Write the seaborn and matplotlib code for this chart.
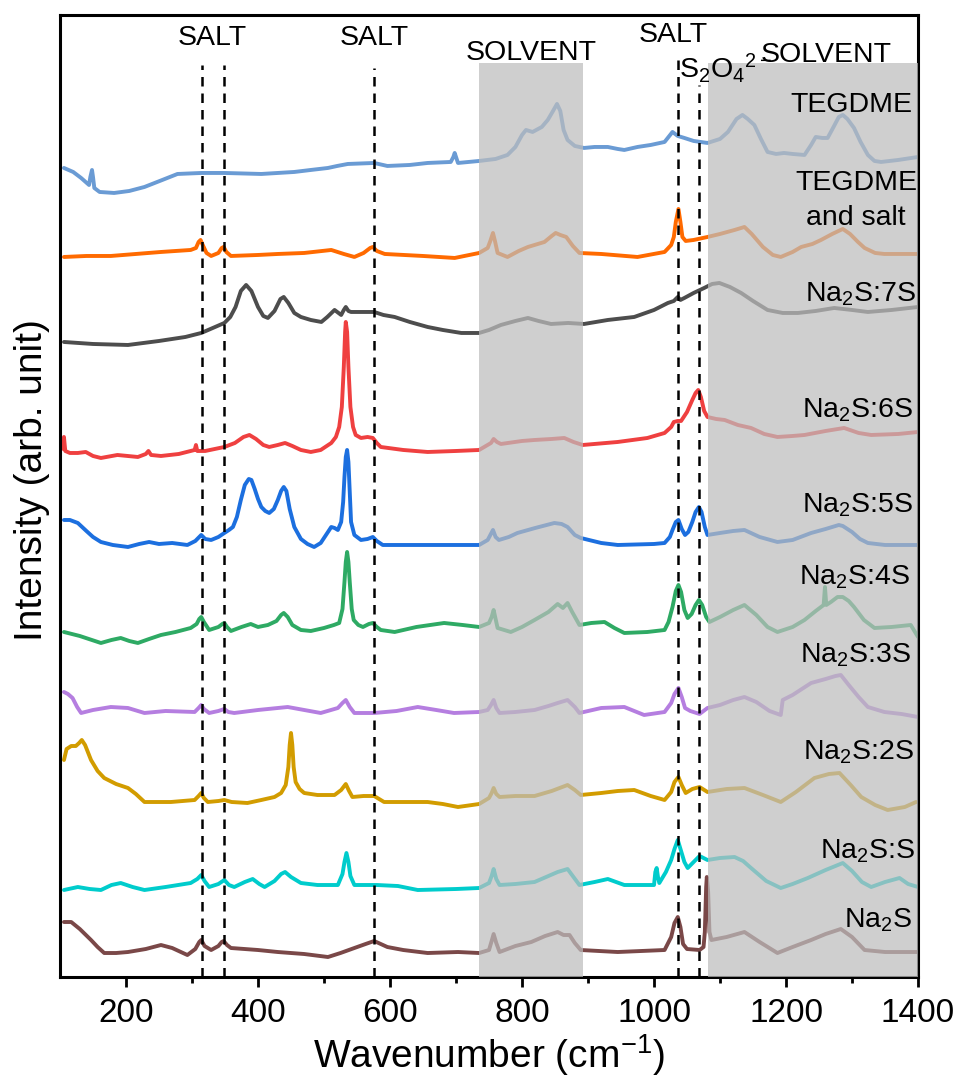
import pandas as pd
import matplotlib.pyplot as plt
import seaborn as sns

sns.set_theme(style='ticks')
plt.rcParams['font.family'] = ['Liberation Sans', 'DejaVu Sans']
plt.rcParams['mathtext.fontset'] = 'custom'
plt.rcParams['mathtext.rm'] = 'Liberation Sans'
plt.rcParams['mathtext.it'] = 'Liberation Sans:italic'
plt.rcParams['mathtext.default'] = 'regular'
plt.rcParams['text.color'] = 'black'
plt.rcParams['axes.labelcolor'] = 'black'
plt.rcParams['xtick.color'] = 'black'

# spectra (intensity in arb. units, already stacked)
wn_tegdme = [106, 120, 132, 144, 146, 148.5, 150, 152, 160, 182, 205, 228, 255, 278, 314, 349, 405, 455, 480, 506,
             520, 536, 576, 596, 630, 657, 692, 696, 698, 700, 703, 735, 760, 778, 790, 800, 806, 816, 830, 839,
             847, 853, 858, 863, 869, 880, 894, 910, 930, 945, 955, 975, 995, 1016, 1022, 1028, 1036, 1046, 1060,
             1081, 1100, 1112, 1125, 1134, 1142, 1152, 1162, 1172, 1185, 1197, 1210, 1228, 1238, 1245, 1255, 1263,
             1272, 1280, 1286, 1293, 1303, 1313, 1324, 1334, 1344, 1370, 1400]
i_tegdme = [809, 805, 799, 792, 800, 807, 800, 789, 785, 784, 786, 790, 797, 803, 804, 804, 803, 805, 807, 809,
            811, 813, 814, 811, 812, 814, 815, 820, 824, 820, 814, 816, 818, 822, 830, 842, 847, 845, 850, 857,
            866, 873, 866, 847, 837, 831, 829, 830, 830, 828, 827, 830, 832, 835, 840, 845, 841, 839, 836,
            834, 838, 845, 858, 862, 858, 852, 838, 825, 823, 824, 823, 822, 832, 840, 839, 839,
            850, 860, 862, 858, 849, 835, 822, 816, 815, 817, 820]

wn_salt = [106, 140, 177, 215, 253, 298, 306, 310, 313, 317, 322, 329, 340, 345, 348, 352, 359, 400, 430, 470, 511,
           530, 546, 560, 570, 574, 580, 592, 650, 698, 735, 748, 752, 756, 759, 763, 778, 795, 809, 834, 845, 851,
           858, 867, 877, 887, 920, 975, 1016, 1026, 1030, 1033, 1037, 1040, 1043, 1048, 1060, 1081, 1100, 1122,
           1137, 1148, 1165, 1180, 1192, 1210, 1223, 1240, 1253, 1270, 1286, 1297, 1309, 1319, 1335, 1349, 1400]
i_salt = [720, 721, 721, 723, 725, 727, 729, 735, 737, 731, 724, 721, 724, 729, 730, 725, 721, 722, 723, 724, 727,
          723, 720, 724, 729, 730, 726, 723, 721, 719, 724, 729, 736, 744, 736, 724, 720, 726, 730, 735, 741, 744,
          742, 740, 731, 724, 723, 720, 725, 732, 740, 755, 768, 755, 740, 736, 737, 740, 743, 747,
          750, 743, 730, 722, 720, 725, 730, 733, 737, 743, 748, 743, 735, 729, 724, 723, 723]

wn_7s = [106, 150, 203, 250, 290, 314, 335, 349, 358, 366, 374, 382, 390, 400, 408, 415, 425, 434, 439, 446, 455,
         465, 480, 496, 505, 516, 522, 526, 530, 533, 537, 541, 560, 576, 590, 607, 630, 657, 680, 708, 735, 750,
         768, 790, 809, 825, 844, 870, 894, 930, 970, 1000, 1021, 1030, 1036, 1040, 1046, 1060, 1076, 1088, 1099,
         1115, 1132, 1150, 1172, 1195, 1218, 1245, 1273, 1300, 1324, 1360, 1400]
i_7s = [635, 633, 632, 636, 640, 644, 650, 654, 660, 670, 686, 692, 686, 670, 661, 659, 666, 678, 680, 674, 664,
        660, 657, 655, 660, 667, 664, 662, 667, 670, 666, 665, 665, 665, 662, 660, 655, 650, 647, 644, 644, 647,
        652, 656, 659, 656, 653, 654, 653, 657, 660, 667, 674, 676, 680, 677, 679, 684, 689, 693, 694,
        690, 684, 676, 667, 664, 664, 666, 669, 667, 665, 667, 670]

wn_6s = [105, 106, 108, 115, 127, 139, 150, 162, 187, 218, 230, 234, 238, 253, 280, 304, 306, 308, 320, 349, 365,
         378, 387, 397, 408, 417, 430, 441, 452, 465, 480, 495, 511, 518, 523, 527, 530, 532, 533, 535, 537, 540,
         544, 548, 556, 566, 574, 580, 586, 620, 657, 700, 735, 753, 757, 762, 768, 800, 819, 845, 864, 878, 892,
         945, 990, 1016, 1026, 1030, 1036, 1041, 1050, 1058, 1063, 1067, 1071, 1076, 1081, 1094, 1107, 1127,
         1147, 1167, 1187, 1210, 1228, 1260, 1288, 1310, 1329, 1370, 1400]
i_6s = [528, 540, 526, 524, 524, 525, 521, 519, 522, 520, 523, 526, 522, 521, 523, 527, 532, 526, 526, 530, 534,
        540, 542, 538, 532, 530, 532, 534, 531, 527, 525, 527, 534, 540, 550, 570, 610, 645, 655, 645, 610, 570,
        550, 542, 539, 540, 539, 534, 530, 527, 525, 526, 527, 534, 538, 535, 533, 536, 537, 538, 539, 535, 532,
        535, 539, 544, 550, 555, 556, 556, 565, 577, 584, 587, 580, 566, 560, 558, 557, 552,
        549, 543, 540, 541, 542, 546, 549, 544, 542, 543, 545]

wn_5s = [106, 115, 127, 140, 150, 162, 180, 203, 220, 235, 250, 270, 293, 305, 314, 320, 329, 340, 349, 356, 362,
         368, 374, 380, 386, 390, 395, 400, 405, 411, 417, 424, 430, 435, 439, 443, 448, 455, 465, 475, 485, 495,
         505, 511, 516, 521, 526, 529, 531, 533, 535, 537, 539, 541, 546, 556, 566, 574, 580, 589, 620, 657, 700,
         735, 748, 752, 756, 760, 765, 780, 793, 820, 849, 860, 869, 880, 889, 920, 945, 1000, 1016, 1024, 1028,
         1033, 1037, 1042, 1047, 1052, 1058, 1063, 1068, 1072, 1077, 1081, 1100, 1120, 1137, 1160, 1187, 1210,
         1238, 1260, 1280, 1286, 1300, 1312, 1324, 1350, 1400]
i_5s = [457, 457, 454, 446, 440, 435, 432, 430, 433, 435, 433, 434, 432, 436, 442, 438, 437, 440, 444, 447, 450,
        460, 477, 492, 498, 497, 488, 478, 470, 466, 464, 468, 477, 486, 490, 486, 468, 450, 438, 433, 430, 434,
        444, 450, 449, 447, 455, 475, 500, 520, 527, 515, 485, 455, 442, 437, 438, 440, 436, 432, 432, 432, 432,
        432, 437, 442, 447, 440, 437, 440, 444, 449, 454, 453, 450, 442, 439, 434, 432, 433, 434, 440, 447,
        455, 457, 448, 442, 445, 455, 465, 470, 465, 450, 442, 444, 446, 447, 440, 435, 437,
        444, 448, 452, 451, 445, 438, 434, 432, 432]

wn_4s = [106, 130, 162, 178, 192, 205, 218, 235, 253, 275, 298, 307, 311, 314, 318, 326, 340, 346, 349, 353, 359,
         375, 389, 400, 415, 428, 435, 439, 445, 452, 465, 480, 500, 515, 523, 528, 531, 533, 535, 537, 539, 542,
         545, 552, 559, 568, 574, 580, 586, 607, 640, 682, 710, 735, 750, 754, 757, 760, 763, 783, 800, 819, 840,
         854, 862, 869, 876, 887, 905, 925, 940, 955, 990, 1016, 1022, 1028, 1033, 1037, 1041, 1046, 1051, 1057,
         1063, 1068, 1073, 1079, 1084, 1100, 1120, 1137, 1155, 1172, 1187, 1210, 1228, 1245, 1253, 1257, 1259,
         1261, 1268, 1278, 1286, 1295, 1303, 1318, 1334, 1360, 1389, 1400]
i_4s = [345, 341, 334, 337, 339, 336, 334, 338, 342, 345, 349, 353, 358, 360, 355, 347, 350, 353, 354, 350, 346,
        350, 353, 350, 352, 356, 362, 364, 360, 352, 347, 346, 349, 352, 354, 368, 395, 415, 425, 415, 395, 368,
        357, 352, 350, 353, 354, 350, 347, 345, 350, 354, 352, 350, 354, 360, 367, 358, 349, 345, 350, 357, 365,
        373, 369, 374, 365, 352, 354, 355, 349, 344, 345, 347, 355, 370, 386, 392, 385, 367, 359, 363,
        372, 377, 372, 360, 355, 360, 367, 372, 362, 350, 345, 350, 357, 366, 370, 372, 390,
        372, 375, 380, 380, 376, 370, 357, 349, 350, 352, 340]

wn_3s = [106, 112, 119, 126, 132, 150, 177, 203, 228, 260, 304, 310, 314, 318, 326, 340, 349, 355, 364, 400, 445,
         470, 495, 521, 528, 533, 539, 546, 576, 610, 642, 670, 697, 735, 748, 753, 757, 761, 766, 790, 819, 840,
         854, 869, 880, 887, 920, 955, 985, 1016, 1026, 1031, 1037, 1042, 1047, 1055, 1069, 1081, 1100, 1120, 1137,
         1155, 1175, 1192, 1195, 1210, 1238, 1260, 1275, 1283, 1295, 1310, 1324, 1349, 1375, 1400]
i_3s = [285, 283, 279, 270, 264, 267, 270, 269, 264, 266, 265, 269, 272, 268, 264, 266, 268, 265, 264, 267, 270,
        267, 264, 269, 274, 277, 270, 264, 264, 266, 270, 267, 264, 265, 267, 272, 277, 269, 264, 265, 267, 271,
        274, 277, 270, 264, 269, 270, 262, 265, 274, 283, 289, 280, 269, 266, 263, 269, 272, 277, 280,
        275, 266, 262, 277, 282, 294, 298, 301, 302, 292, 280, 270, 265, 263, 260]

wn_2s = [106, 110, 117, 124, 129, 133, 138, 147, 157, 167, 185, 203, 215, 228, 250, 268, 304, 310, 314, 318, 324,
         340, 349, 360, 384, 405, 425, 435, 442, 446, 448, 450, 452, 454, 457, 463, 470, 490, 516, 526, 533, 538,
         543, 560, 576, 591, 620, 657, 680, 703, 735, 750, 754, 757, 761, 766, 790, 819, 845, 869, 880, 889, 920,
         945, 970, 995, 1016, 1026, 1031, 1037, 1042, 1048, 1058, 1069, 1081, 1110, 1137, 1165, 1192, 1215, 1243,
         1265, 1281, 1298, 1314, 1335, 1354, 1380, 1397]
i_2s = [217, 228, 231, 231, 234, 237, 232, 217, 206, 199, 193, 189, 183, 175, 175, 175, 177, 181, 184, 179, 175,
        176, 177, 175, 174, 177, 180, 184, 192, 210, 232, 244, 232, 210, 195, 188, 184, 182, 182, 187, 193, 186,
        180, 181, 181, 175, 175, 175, 173, 170, 173, 179, 184, 189, 183, 180, 181, 181, 186, 192, 187, 182, 184,
        186, 187, 181, 177, 185, 195, 200, 192, 184, 188, 190, 185, 188, 189, 182, 175, 185, 199,
        203, 204, 192, 180, 172, 167, 170, 175]

wn_1s = [106, 127, 145, 162, 178, 192, 210, 228, 260, 298, 308, 314, 319, 326, 340, 349, 356, 364, 380, 392, 402,
         410, 425, 435, 441, 450, 465, 490, 521, 528, 531, 534, 537, 540, 546, 580, 612, 642, 700, 735, 750, 754,
         757, 761, 766, 790, 819, 840, 854, 869, 878, 887, 910, 930, 955, 1000, 1002, 1004, 1006, 1008, 1018, 1026,
         1031, 1036, 1041, 1046, 1051, 1060, 1069, 1081, 1100, 1122, 1135, 1147, 1170, 1192, 1210, 1233, 1260,
         1286, 1300, 1315, 1329, 1350, 1372, 1385, 1400]
i_1s = [87, 90, 88, 87, 92, 94, 90, 87, 90, 94, 98, 102, 96, 90, 93, 97, 92, 90, 95, 98, 93,
        90, 96, 103, 105, 100, 94, 92, 92, 103, 115, 124, 115, 101, 92, 92, 91, 87, 88, 89, 94, 101,
        108, 98, 92, 93, 95, 101, 105, 108, 100, 92, 95, 98, 92, 92, 105, 109, 100, 94, 105, 117,
        128, 137, 126, 115, 109, 115, 121, 117, 119, 120, 116, 109, 96, 89, 93, 99, 107,
        114, 106, 95, 90, 95, 99, 93, 90]

wn_na2s = [106, 117, 130, 147, 157, 167, 185, 203, 230, 253, 270, 293, 305, 311, 314, 319, 329, 340, 345, 348, 353,
           359, 400, 430, 470, 506, 525, 546, 563, 576, 586, 596, 620, 657, 703, 735, 750, 754, 757, 761, 766, 790,
           814, 835, 854, 863, 872, 880, 889, 945, 1016, 1026, 1031, 1036, 1040, 1044, 1050, 1069, 1075, 1077,
           1079, 1080, 1082, 1084, 1087, 1110, 1137, 1160, 1187, 1210, 1238, 1260, 1283, 1300, 1319, 1350, 1400]
i_na2s = [55, 55, 48, 37, 30, 24, 24, 25, 28, 32, 29, 22, 28, 35, 37, 31, 27, 31, 35, 36, 32,
          29, 27, 25, 23, 20, 24, 29, 33, 36, 33, 30, 27, 24, 25, 24, 27, 36, 43, 34, 25, 31,
          35, 41, 45, 42, 42, 34, 27, 25, 27, 40, 54, 60, 50, 33, 28, 27, 30, 45,
          90, 100, 85, 45, 37, 40, 45, 35, 24, 30, 37, 43, 48, 40, 27, 25, 25]

spectra = [
    (wn_tegdme, i_tegdme, '#6a9bd4'),
    (wn_salt, i_salt, '#ff6a00'),
    (wn_7s, i_7s, '#4d4d4d'),
    (wn_6s, i_6s, '#ef4040'),
    (wn_5s, i_5s, '#1c6fdf'),
    (wn_4s, i_4s, '#2eaa64'),
    (wn_3s, i_3s, '#b57ee0'),
    (wn_2s, i_2s, '#d29c00'),
    (wn_1s, i_1s, '#00cccc'),
    (wn_na2s, i_na2s, '#7a4848'),
]

labels = ['TEGDME', 'Na$_2$S:7S', 'Na$_2$S:6S', 'Na$_2$S:5S', 'Na$_2$S:4S',
          'Na$_2$S:3S', 'Na$_2$S:2S', 'Na$_2$S:S', 'Na$_2$S']
label_x = [1392, 1397, 1392, 1392, 1388, 1389, 1394, 1395, 1392]
label_y = [865, 675, 559, 464, 392, 314, 217, 119, 50]

salt_pos = [315, 348, 576, 1036, 1068]
salt_top = [912, 912, 909, 924, 892]
shade_ranges = [(735, 892), (1082, 1400)]

fig = plt.figure(figsize=(9.63, 10.84), dpi=100)
ax = fig.add_axes([0.0623, 0.0987, 0.891, 0.8875])

for wn, inten, col in spectra:
    df = pd.DataFrame({'wn': wn, 'I': inten})
    sns.lineplot(data=df, x='wn', y='I', color=col, lw=2.8, ax=ax, zorder=2)

for a, b in shade_ranges:
    ax.axvspan(a, b, ymin=0, ymax=914 / 962, color='#bdbdbd', alpha=0.72, lw=0, zorder=3)

ax.vlines(salt_pos, 0, salt_top, colors='black', linestyles=(0, (3.8, 2.8)), lw=1.8, zorder=4)

fs = 20.5
ax.text(330, 932, 'SALT', ha='center', va='baseline', fontsize=fs, zorder=5)
ax.text(576, 932, 'SALT', ha='center', va='baseline', fontsize=fs, zorder=5)
ax.text(814, 917, 'SOLVENT', ha='center', va='baseline', fontsize=fs, zorder=5)
ax.text(1029, 935, 'SALT', ha='center', va='baseline', fontsize=fs, zorder=5)
ax.text(1038, 899, 'S$_2$O$_4$$^{2-}$', ha='left', va='baseline', fontsize=fs, zorder=5)
ax.text(1162, 915, 'SOLVENT', ha='left', va='baseline', fontsize=fs, zorder=5)
ax.text(1306, 787, 'TEGDME', ha='center', va='baseline', fontsize=fs, zorder=5)
ax.text(1306, 752, 'and salt', ha='center', va='baseline', fontsize=fs, zorder=5)
for txt, x, y in zip(labels, label_x, label_y):
    ax.text(x, y, txt, ha='right', va='baseline', fontsize=fs, zorder=5)

ax.set_xlim(100, 1400)
ax.set_ylim(0, 962)
ax.set_xticks([200, 400, 600, 800, 1000, 1200, 1400])
ax.set_xticks([300, 500, 700, 900, 1100, 1300], minor=True)
ax.set_yticks([])
ax.tick_params(axis='x', which='major', direction='out', length=7, width=2, labelsize=24, pad=8)
ax.tick_params(axis='x', which='minor', direction='out', length=4, width=2)
for sp in ax.spines.values():
    sp.set_visible(True)
    sp.set_linewidth(2.2)
    sp.set_color('black')

ax.set_xlabel('Wavenumber (cm$^{-1}$)', fontsize=28)
ax.set_ylabel('Intensity (arb. unit)', fontsize=28)
ax.xaxis.set_label_coords(0.5, -0.057)
ax.yaxis.set_label_coords(-0.012, 0.517)

fig.savefig('out.png', dpi=100)
